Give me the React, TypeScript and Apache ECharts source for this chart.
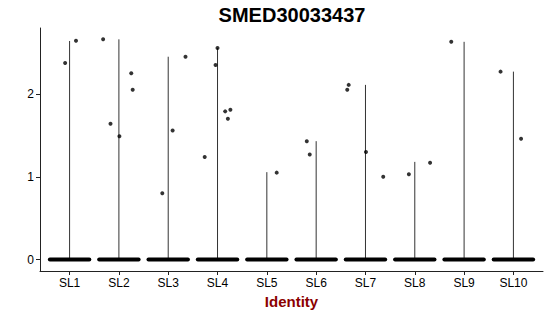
import React, { useEffect, useRef } from "react";
import * as echarts from "echarts";

const categories = ["SL1", "SL2", "SL3", "SL4", "SL5", "SL6", "SL7", "SL8", "SL9", "SL10"];
const violinTop = [2.64, 2.66, 2.45, 2.555, 1.056, 1.43, 2.11, 1.18, 2.63, 2.27];
const zeroLeft = [-0.4, -0.4, -0.4, -0.4, -0.4, -0.4, -0.4, -0.4, -0.4, -0.4];
const zeroRight = [0.4, 0.4, 0.4, 0.4, 0.4, 0.4, 0.4, 0.4, 0.4, 0.4];
const pointGroup = [1, 1, 2, 2, 2, 2, 2, 3, 3, 3, 4, 4, 4, 4, 4, 4, 5, 6, 6, 7, 7, 7, 7, 8, 8, 9, 10, 10];
const pointOffset = [-0.09, 0.13, -0.32, -0.17, 0.01, 0.25, 0.28, -0.12, 0.09, 0.35, -0.26, -0.04, 0.0, 0.155, 0.26, 0.21, 0.2, -0.19, -0.13, -0.37, -0.34, 0.01, 0.36, -0.12, 0.31, -0.26, -0.26, 0.155];
const pointValue = [2.375, 2.643, 2.66, 1.64, 1.49, 2.25, 2.05, 0.8, 1.56, 2.45, 1.24, 2.35, 2.555, 1.79, 1.81, 1.7, 1.05, 1.43, 1.27, 2.05, 2.11, 1.3, 1.0, 1.03, 1.17, 2.63, 2.27, 1.46];
const yTicks = [0, 1, 2];

const FONT = "'Liberation Sans', Arial, Helvetica, sans-serif";

export default function App() {
  const ref = useRef<HTMLDivElement>(null);
  useEffect(() => {
    if (!ref.current) return;
    const chart = echarts.init(ref.current, null, { renderer: "svg" });
    const xPositions = categories.map((_, i) => i + 1);
    const violinData = categories.map((_, i) => [i + 1, violinTop[i]]);
    const zeroData = categories.map((_, i) => [i + 1, zeroLeft[i], zeroRight[i]]);
    const pointData = pointGroup.map((g, i) => [g + pointOffset[i], pointValue[i]]);
    chart.setOption({
      animation: false,
      backgroundColor: "#ffffff",
      textStyle: { fontFamily: FONT },
      grid: { left: 40, right: 7, top: 28, bottom: 45, containLabel: false },
      graphic: [
        {
          type: "text",
          x: 292,
          y: 15,
          style: {
            text: "SMED30033437",
            font: `bold 20px ${FONT}`,
            fill: "#000000",
            textAlign: "center",
            textVerticalAlign: "middle",
          },
        },
      ],
      xAxis: {
        type: "value",
        min: 0.4,
        max: 10.6,
        name: "Identity",
        nameLocation: "middle",
        nameGap: 18,
        nameTextStyle: { color: "#8B0000", fontWeight: "bold", fontSize: 15, fontFamily: FONT },
        splitLine: { show: false },
        axisLine: { show: true, onZero: false, lineStyle: { color: "#222222", width: 1 } },
        axisTick: { show: true, length: 4, customValues: xPositions, lineStyle: { color: "#222222" } },
        axisLabel: {
          customValues: xPositions,
          margin: 6,
          color: "#000000",
          fontSize: 12,
          fontFamily: FONT,
          formatter: (v: number) => categories[Math.round(v) - 1] ?? "",
        },
      },
      yAxis: {
        type: "value",
        min: -0.138,
        max: 2.797,
        splitLine: { show: false },
        axisLine: { show: true, onZero: false, lineStyle: { color: "#222222", width: 1 } },
        axisTick: { show: true, length: 4, customValues: yTicks, lineStyle: { color: "#222222" } },
        axisLabel: {
          customValues: yTicks,
          margin: 6,
          color: "#000000",
          fontSize: 12,
          fontFamily: FONT,
        },
      },
      series: [
        {
          type: "custom",
          name: "violin",
          data: violinData,
          renderItem: (_params: any, api: any) => {
            const x = api.value(0);
            const top = api.value(1);
            const p0 = api.coord([x, 0]);
            const p1 = api.coord([x, top]);
            return {
              type: "line",
              shape: { x1: p0[0], y1: p0[1], x2: p1[0], y2: p1[1] },
              style: { stroke: "#333333", lineWidth: 1 },
            };
          },
          z: 1,
        },
        {
          type: "custom",
          name: "zero",
          data: zeroData,
          renderItem: (_params: any, api: any) => {
            const x = api.value(0);
            const lo = api.value(1);
            const hi = api.value(2);
            const p0 = api.coord([x + lo, 0]);
            const p1 = api.coord([x + hi, 0]);
            return {
              type: "line",
              shape: { x1: p0[0], y1: p0[1], x2: p1[0], y2: p1[1] },
              style: { stroke: "#000000", lineWidth: 4, lineCap: "round" },
            };
          },
          z: 2,
        },
        {
          type: "scatter",
          name: "cells",
          data: pointData,
          symbol: "circle",
          symbolSize: 4,
          itemStyle: { color: "#000000" },
          z: 3,
        },
      ],
    });
    return () => chart.dispose();
  }, []);
  return (
    <div
      ref={ref}
      style={{ position: "fixed", left: 0, top: 0, width: 550, height: 316, background: "#fff" }}
    />
  );
}
